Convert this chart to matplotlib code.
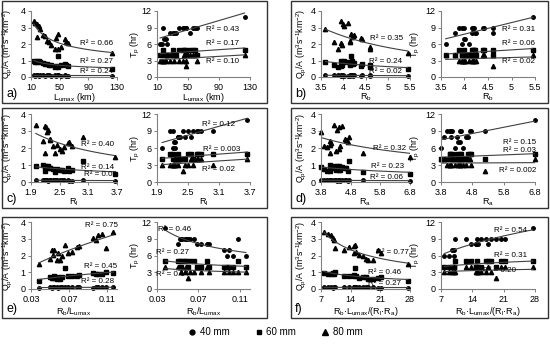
import numpy as np
import matplotlib
matplotlib.use("Agg")
import matplotlib.pyplot as plt
from matplotlib.patches import Rectangle
from matplotlib.lines import Line2D

plt.rcParams['font.family'] = ['Liberation Sans', 'DejaVu Sans']
plt.rcParams['mathtext.fontset'] = 'custom'
plt.rcParams['mathtext.rm'] = 'Liberation Sans'
plt.rcParams['mathtext.it'] = 'Liberation Sans'

# ---------------- data (20 basins) ----------------
lumax = [14, 16, 18, 19, 21, 23, 27, 30, 32, 35, 38, 43, 45, 47, 48, 52, 57, 59, 62, 123]
rb = [3.95, 4.10, 4.20, 4.00, 4.02, 3.60, 4.25, 4.22, 4.15, 3.80, 3.98, 3.88, 4.40, 4.60, 4.18, 4.60, 4.42, 4.15, 3.95, 5.45]
rl = [2.00, 2.20, 2.15, 2.22, 2.25, 2.24, 2.30, 2.30, 2.45, 2.35, 2.50, 2.20, 2.70, 2.40, 2.98, 2.55, 2.68, 2.75, 2.60, 3.65]
ra = [4.25, 4.50, 4.10, 4.40, 4.35, 3.80, 4.60, 4.65, 4.12, 3.90, 4.40, 4.10, 4.72, 5.20, 4.75, 4.30, 4.15, 4.45, 4.00, 6.80]
rb_lumax = [0.116, 0.104, 0.108, 0.100, 0.095, 0.098, 0.080, 0.078, 0.073, 0.069, 0.062, 0.057, 0.052, 0.060, 0.066, 0.050, 0.054, 0.058, 0.053, 0.038]
rb_lumax_rl_ra = [7.7, 8.7, 10.2, 9.4, 9.9, 10.0, 14.8, 13.7, 15.3, 14.8, 17.0, 18.1, 20.5, 19.3, 15.0, 17.5, 12.5, 21.2, 16.0, 27.5]

qp40 = [0.10, 0.09, 0.11, 0.10, 0.08, 0.12, 0.10, 0.09, 0.10, 0.11, 0.09, 0.10, 0.08, 0.10, 0.12, 0.09, 0.10, 0.08, 0.09, 0.08]
qp60 = [0.95, 0.90, 1.00, 0.92, 0.97, 0.88, 0.82, 0.80, 0.78, 0.75, 0.72, 0.62, 0.66, 0.58, 1.25, 0.70, 0.80, 0.72, 0.65, 0.50]
qp80 = [3.38, 3.30, 2.42, 3.22, 3.07, 2.93, 2.55, 2.48, 2.18, 2.12, 1.95, 1.72, 2.35, 1.72, 2.63, 1.80, 2.32, 2.12, 2.05, 1.47]
tp40 = [6, 6, 9, 7, 7, 6, 8, 8, 8, 8, 9, 9, 9, 9, 9, 8, 9, 9, 9, 11]
tp60 = [4, 4, 5, 4, 4, 4, 4, 5, 4, 4, 5, 5, 5, 4, 5, 5, 5, 5, 4, 5]
tp80 = [3, 3, 3, 3, 3, 4, 3, 4, 3, 4, 3, 3, 4, 2, 3, 4, 4, 4, 3, 4]

panel_letters = ['a)', 'b)', 'c)', 'd)', 'e)', 'f)']
x_data = [lumax, rb, rl, ra, rb_lumax, rb_lumax_rl_ra]
x_labels = [r'L$_{umax}$ (km)', r'R$_b$', r'R$_l$', r'R$_a$', r'R$_b$/L$_{umax}$',
            r'R$_b$·L$_{umax}$/(R$_l$·R$_a$)']
x_ticks = [[10, 50, 90, 130], [3.5, 4, 4.5, 5, 5.5], [1.9, 2.5, 3.1, 3.7],
           [3.8, 4.8, 5.8, 6.8], [0.03, 0.07, 0.11], [7, 14, 21, 28]]
x_ticklabels = [['10', '50', '90', '130'], ['3.5', '4', '4.5', '5', '5.5'],
                ['1.9', '2.5', '3.1', '3.7'], ['3.8', '4.8', '5.8', '6.8'],
                ['0.03', '0.07', '0.11'], ['7', '14', '21', '28']]
x_lims = [(10, 130), (3.5, 5.5), (1.9, 3.7), (3.8, 6.8), (0.03, 0.12), (7, 28)]
tp_fit = ['linear', 'linear', 'linear', 'linear', 'power', 'power']

qp_r2 = [['R² = 0.24', 'R² = 0.27', 'R² = 0.66'],
         ['R² = 0.02', 'R² = 0.24', 'R² = 0.35'],
         ['R² = 0.09', 'R² = 0.14', 'R² = 0.40'],
         ['R² = 0.06', 'R² = 0.23', 'R² = 0.32'],
         ['R² = 0.28', 'R² = 0.45', 'R² = 0.75'],
         ['R² = 0.27', 'R² = 0.46', 'R² = 0.77']]
tp_r2 = [['R² = 0.43', 'R² = 0.17', 'R² = 0.10'],
         ['R² = 0.31', 'R² = 0.06', 'R² = 0.02'],
         ['R² = 0.12', 'R² = 0.003', 'R² = 0.02'],
         ['R² = 0.15', 'R² = 0.03', 'R² = 0.002'],
         ['R² = 0.46', 'R² = 0.27', 'R² = 0.14'],
         ['R² = 0.54', 'R² = 0.31', 'R² = 0.20']]
qp_r2_pos = [[(102, 0.32), (102, 0.92), (102, 2.06)],
             [(4.95, 0.34), (4.95, 0.95), (4.98, 2.32)],
             [(3.35, 0.42), (3.3, 0.88), (3.3, 2.2)],
             [(6.0, 0.28), (6.05, 0.92), (6.1, 2.0)],
             [(0.100, 0.45), (0.103, 1.35), (0.104, 3.8)],
             [(22.0, 0.35), (22.0, 1.0), (23.8, 2.15)]]
tp_r2_pos = [[(95, 8.7), (95, 6.15), (95, 2.9)],
             [(5.15, 8.7), (5.15, 6.15), (5.15, 2.9)],
             [(3.1, 10.1), (3.15, 5.8), (3.1, 2.2)],
             [(6.3, 7.0), (6.3, 5.5), (6.25, 2.0)],
             [(0.047, 10.6), (0.045, 6.5), (0.045, 2.6)],
             [(22.5, 10.5), (22.5, 6.0), (20.0, 3.3)]]

# ---------------- layout (pixels) ----------------
W, H = 550, 344
fig = plt.figure(figsize=(W / 100, H / 100), dpi=100)


def rect(x0, x1, yt, yb):
    return [x0 / W, 1 - yb / H, (x1 - x0) / W, (yb - yt) / H]


col_box = [(2, 267), (291, 548)]
row_box = [(1, 103), (108, 208), (217, 318)]
col_qp = [(31, 117), (321, 410)]
col_tp = [(157, 250), (441, 535)]
row_ax = [(11, 77), (114, 182), (222, 289)]
ylab_qp = [10, 303]
ylab_tp = [137, 418]

LINE = '#404040'
AX = '#808080'


def fit_line(x, y, kind):
    x = np.asarray(x, float)
    y = np.asarray(y, float)
    xs = np.linspace(x.min(), x.max(), 100)
    if kind == 'power':
        b, a = np.polyfit(np.log(x), np.log(y), 1)
        return xs, np.exp(a) * xs ** b
    b, a = np.polyfit(x, y, 1)
    return xs, a + b * xs


def style(ax, xl, xt, xtl):
    for s in ['top', 'right']:
        ax.spines[s].set_visible(False)
    for s in ['left', 'bottom']:
        ax.spines[s].set_color(AX)
        ax.spines[s].set_linewidth(0.8)
    ax.set_xlim(*xl)
    ax.set_xticks(xt)
    ax.set_xticklabels(xtl)
    ax.tick_params(axis='both', labelsize=6.5, length=2.5, width=0.7, color=AX, pad=1.5)
    ax.patch.set_alpha(0)


markers = [('o', 2.5), ('s', 2.5), ('^', 3.1)]

for i in range(6):
    r, c = divmod(i, 2)
    bx0, bx1 = col_box[c]
    by0, by1 = row_box[r]
    fig.patches.append(Rectangle((bx0 / W, 1 - by1 / H), (bx1 - bx0) / W, (by1 - by0) / H,
                                 transform=fig.transFigure, fill=False, ec='#333333', lw=1.0))
    fig.text((bx0 + 4) / W, 1 - (by1 - 3) / H, panel_letters[i], fontsize=9, ha='left', va='bottom')

    x = x_data[i]
    yt, yb = row_ax[r]
    # Qp/A axes
    ax1 = fig.add_axes(rect(col_qp[c][0], col_qp[c][1], yt, yb))
    style(ax1, x_lims[i], x_ticks[i], x_ticklabels[i])
    ax1.set_ylim(0, 4)
    ax1.set_yticks([0, 1, 2, 3, 4])
    for k, (yv, (m, ms)) in enumerate(zip([qp40, qp60, qp80], markers)):
        ax1.plot(x, yv, ls='none', marker=m, ms=ms, color='black', clip_on=False)
        xs, ys = fit_line(x, yv, 'power')
        ax1.plot(xs, ys, color=LINE, lw=0.8)
        px, py = qp_r2_pos[i][k]
        ax1.text(px, py, qp_r2[i][k], fontsize=5.8, ha='center', va='center')
    ax1.set_ylabel(r'Q$_p$/A (m$^3$s$^{-1}$km$^{-2}$)', fontsize=6.3)
    w1 = col_qp[c][1] - col_qp[c][0]
    ax1.yaxis.set_label_coords((ylab_qp[c] + 4.5 - col_qp[c][0]) / w1, 0.5)

    # Tp axes
    ax2 = fig.add_axes(rect(col_tp[c][0], col_tp[c][1], yt, yb))
    style(ax2, x_lims[i], x_ticks[i], x_ticklabels[i])
    ax2.set_ylim(0, 12)
    ax2.set_yticks([0, 3, 6, 9, 12])
    for k, (yv, (m, ms)) in enumerate(zip([tp40, tp60, tp80], markers)):
        ax2.plot(x, yv, ls='none', marker=m, ms=ms, color='black', clip_on=False)
        xs, ys = fit_line(x, yv, tp_fit[i])
        ax2.plot(xs, ys, color=LINE, lw=0.8)
        px, py = tp_r2_pos[i][k]
        ax2.text(px, py, tp_r2[i][k], fontsize=5.8, ha='center', va='center')
    ax2.set_ylabel(r'T$_p$ (hr)', fontsize=6.5)
    w2 = col_tp[c][1] - col_tp[c][0]
    ax2.yaxis.set_label_coords((ylab_tp[c] + 4.5 - col_tp[c][0]) / w2, 0.5)

    # x labels centred under each axes
    for (cx0, cx1) in (col_qp[c], col_tp[c]):
        fig.text(((cx0 + cx1) / 2) / W, 1 - (by1 - 6) / H, x_labels[i],
                 fontsize=6.5, ha='center', va='center')

handles = [Line2D([], [], ls='none', marker=m, ms=ms + 1, color='black') for m, ms in markers]
fig.legend(handles, ['40 mm', '60 mm', '80 mm'], loc='center', bbox_to_anchor=(0.5, 1 - 332 / H),
           ncol=3, frameon=False, fontsize=7, handletextpad=0.3, columnspacing=2.5, handlelength=1)

fig.savefig('out.png', dpi=100)
